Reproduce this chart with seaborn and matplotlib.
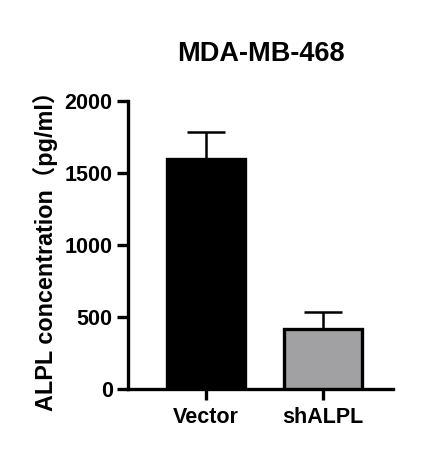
import seaborn as sns
import matplotlib.pyplot as plt
import pandas as pd

groups = ['Vector', 'shALPL']
means = [1600, 420]
sds = [187, 118]
colors = ['#000000', '#A1A0A5']

sns.set_style('ticks', rc={'axes.edgecolor': 'black', 'text.color': 'black',
                           'axes.labelcolor': 'black', 'xtick.color': 'black',
                           'ytick.color': 'black'})
plt.rcParams['font.family'] = ['Liberation Sans', 'Noto Sans CJK SC', 'DejaVu Sans']

df = pd.DataFrame({'group': groups, 'value': means})

fig = plt.figure(figsize=(4.25, 4.53), dpi=100)
ax = fig.add_axes([0.301, 0.141, 0.624, 0.635])

sns.barplot(data=df, x='group', y='value', hue='group', palette=colors,
            width=0.667, edgecolor='black', linewidth=2.4, legend=False,
            ax=ax, zorder=3)
# only the upper half of the error bar, as in prism
ax.errorbar(range(len(groups)), means, yerr=[[0] * len(sds), sds], fmt='none',
            ecolor='black', elinewidth=1.8, capsize=14, capthick=1.8, zorder=2)

ax.set_ylim(0, 2000)
ax.set_yticks([0, 500, 1000, 1500, 2000])
ax.set_xlim(-0.667, 1.6)
ax.set_xlabel('')
ax.set_ylabel('ALPL concentration（pg/ml）', fontsize=16.8, fontweight='bold', labelpad=5)
ax.set_title('MDA-MB-468', fontsize=19.5, fontweight='bold', pad=29)
ax.tick_params(axis='both', width=2.4, length=8, labelsize=15.5, pad=3)
ax.tick_params(axis='x', pad=5)
for lab in ax.get_xticklabels() + ax.get_yticklabels():
    lab.set_fontweight('bold')
for side in ['left', 'bottom']:
    ax.spines[side].set_linewidth(2.4)
sns.despine(ax=ax)

fig.savefig('out.png', dpi=100)
